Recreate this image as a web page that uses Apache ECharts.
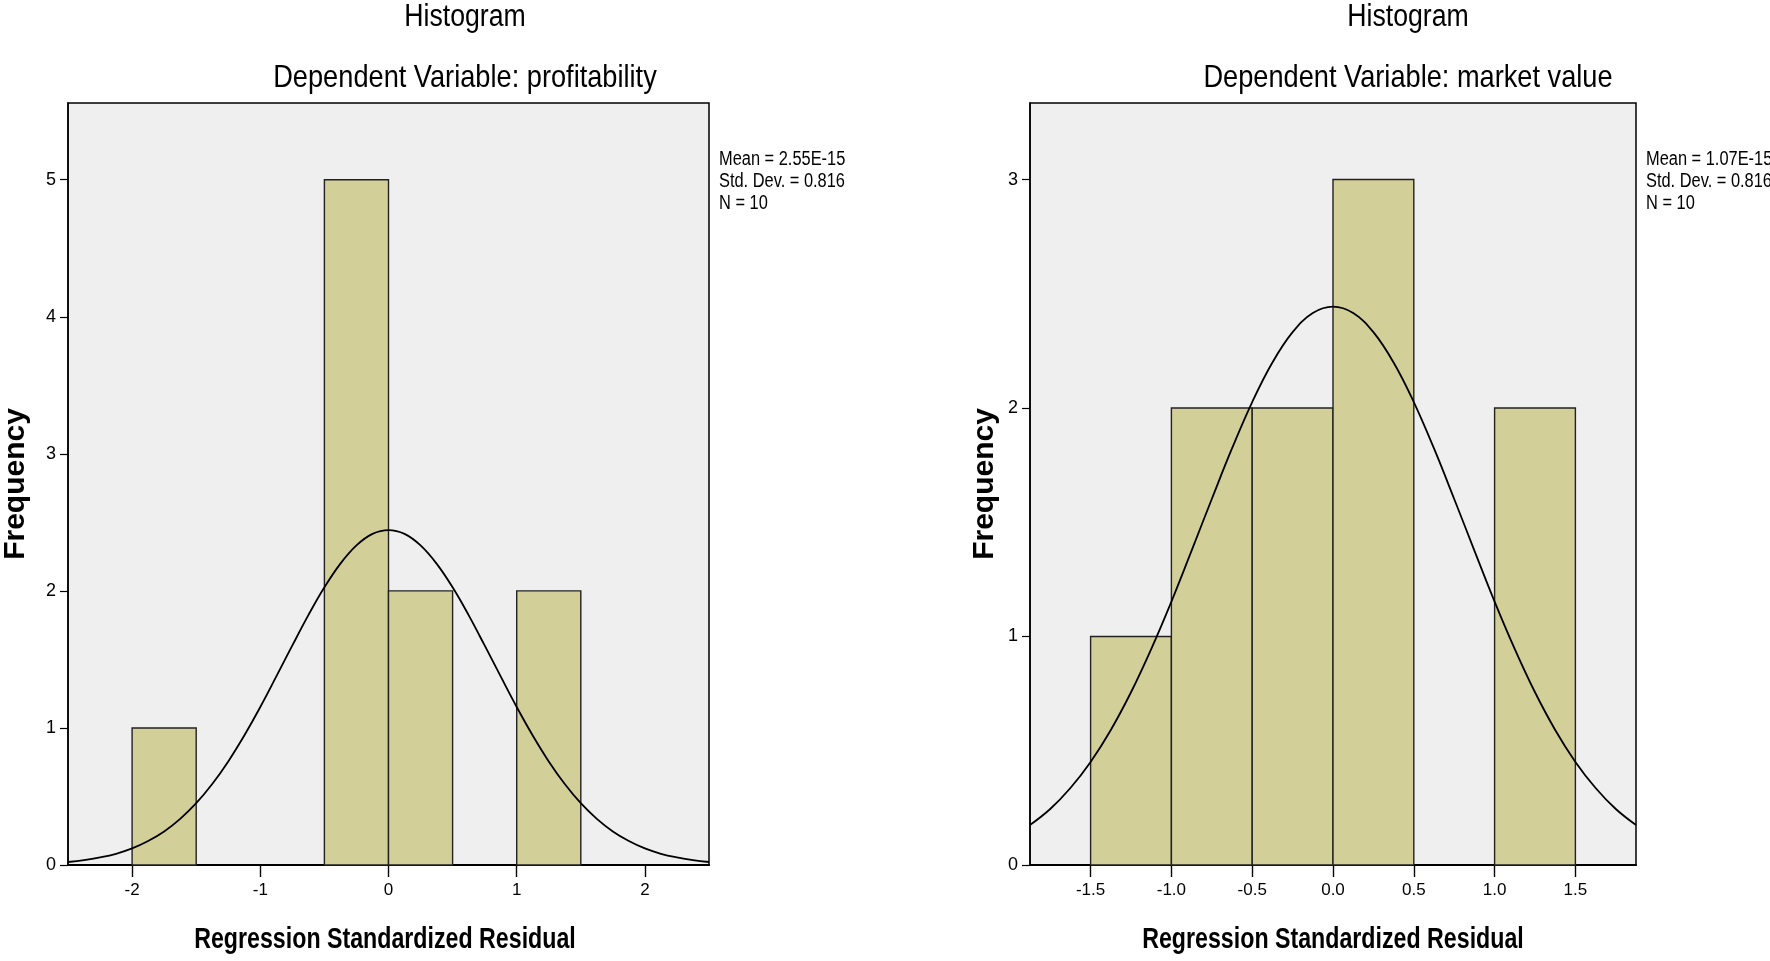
<!DOCTYPE html>
<html>
<head>
<meta charset="utf-8">
<script src="https://cdn.jsdelivr.net/npm/echarts@6/dist/echarts.min.js"></script>
<style>
html,body{margin:0;padding:0;background:#fff;}
#c{width:1770px;height:961px;}
</style>
</head>
<body>
<div id="c"></div>
<script>
// ---- data ----
// bins: [start, end, frequency]
const leftBins = [[-2, -1.5, 1], [-0.5, 0, 5], [0, 0.5, 2], [1, 1.5, 2]];
const rightBins = [[-1.5, -1.0, 1], [-1.0, -0.5, 2], [-0.5, 0, 2], [0, 0.5, 3], [1.0, 1.5, 2]];

// normal curve, read at x steps of 0.125
const leftCurveX = [-2.5,-2.375,-2.25,-2.125,-2,-1.875,-1.75,-1.625,-1.5,-1.375,-1.25,-1.125,-1,-0.875,-0.75,-0.625,-0.5,-0.375,-0.25,-0.125,0,0.125,0.25,0.375,0.5,0.625,0.75,0.875,1,1.125,1.25,1.375,1.5,1.625,1.75,1.875,2,2.125,2.25,2.375,2.5];
const leftCurveY = [0.022,0.035,0.055,0.082,0.121,0.175,0.245,0.337,0.451,0.591,0.756,0.945,1.153,1.376,1.602,1.823,2.026,2.199,2.332,2.416,2.444,2.416,2.332,2.199,2.026,1.823,1.602,1.376,1.153,0.945,0.756,0.591,0.451,0.337,0.245,0.175,0.121,0.082,0.055,0.035,0.022];
const rightCurveX = [-1.875,-1.75,-1.625,-1.5,-1.375,-1.25,-1.125,-1,-0.875,-0.75,-0.625,-0.5,-0.375,-0.25,-0.125,0,0.125,0.25,0.375,0.5,0.625,0.75,0.875,1,1.125,1.25,1.375,1.5,1.625,1.75,1.875];
const rightCurveY = [0.175,0.245,0.337,0.451,0.591,0.756,0.945,1.153,1.376,1.602,1.823,2.026,2.199,2.332,2.416,2.444,2.416,2.332,2.199,2.026,1.823,1.602,1.376,1.153,0.945,0.756,0.591,0.451,0.337,0.245,0.175];

// tick labels
const leftXTicks = [-2, -1, 0, 1, 2];
const rightXTicks = [-1.5, -1.0, -0.5, 0.0, 0.5, 1.0, 1.5];
const leftYTicks = [0, 1, 2, 3, 4, 5];
const rightYTicks = [0, 1, 2, 3];

// texts
const mainTitle = 'Histogram';
const leftSubtitle = 'Dependent Variable: profitability';
const rightSubtitle = 'Dependent Variable: market value';
const xName = 'Regression Standardized Residual';
const yName = 'Frequency';
const leftStats = ['Mean = 2.55E-15', 'Std. Dev. = 0.816', 'N = 10'];
const rightStats = ['Mean = 1.07E-15', 'Std. Dev. = 0.816', 'N = 10'];

// ---- styling ----
const SANS = '"Liberation Sans", Arial, sans-serif';
const BAR = '#d3cf99';

const chart = echarts.init(document.getElementById('c'), null, {renderer: 'canvas'});

function zip(xs, ys) { return xs.map((x, i) => [x, ys[i]]); }

function barRender(params, api) {
  const p0 = api.coord([api.value(0), api.value(2)]);
  const p1 = api.coord([api.value(1), 0]);
  return {
    type: 'rect',
    shape: {x: p0[0], y: p0[1], width: p1[0] - p0[0], height: p1[1] - p0[1]},
    style: {fill: BAR, stroke: '#222', lineWidth: 1.4}
  };
}

function xAxisCfg(idx, min, max, ticks, fmt) {
  return {
    type: 'value', gridIndex: idx, min: min, max: max,
    axisLine: {show: true, onZero: false, lineStyle: {color: '#000', width: 2}},
    axisTick: {show: true, length: 12, customValues: ticks, lineStyle: {color: '#000', width: 1.4}},
    axisLabel: {customValues: ticks, margin: 17, fontFamily: SANS, fontSize: 17, color: '#000', formatter: fmt},
    splitLine: {show: false}
  };
}
function yAxisCfg(idx, max, ticks, gap) {
  return {
    type: 'value', gridIndex: idx, min: 0, max: max,
    name: yName, nameLocation: 'middle', nameGap: gap,
    nameTextStyle: {fontFamily: SANS, fontWeight: 'bold', fontSize: 30, color: '#000'},
    axisLine: {show: true, onZero: false, lineStyle: {color: '#000', width: 1.5}},
    axisTick: {show: true, length: 8, customValues: ticks, lineStyle: {color: '#000', width: 1.2}},
    axisLabel: {customValues: ticks, margin: 12, fontFamily: SANS, fontSize: 18, color: '#000'},
    splitLine: {show: false}
  };
}

function narrowText(text, x, y, size, weight, align, scale) {
  return {
    type: 'text', x: x, y: y, scaleX: scale,
    style: {text: text, font: (weight || 'normal') + ' ' + size + 'px ' + SANS, fill: '#000', align: align || 'center', verticalAlign: 'middle'}
  };
}
function statText(lines, x) {
  return lines.map((t, i) => narrowText(t, x, 159 + i * 22, 20, 'normal', 'left', 0.82));
}

const option = {
  backgroundColor: '#ffffff',
  animation: false,
  grid: [
    {left: 60, top: 103, width: 649, height: 762, show: true, backgroundColor: '#efefef', borderColor: '#000', borderWidth: 1.5},
    {left: 1030, top: 103, width: 606, height: 762, show: true, backgroundColor: '#efefef', borderColor: '#000', borderWidth: 1.5}
  ],
  xAxis: [
    xAxisCfg(0, -2.5, 2.5, leftXTicks, v => String(v)),
    xAxisCfg(1, -1.875, 1.875, rightXTicks, v => Number(v).toFixed(1))
  ],
  yAxis: [
    yAxisCfg(0, 5.56, leftYTicks, 37),
    yAxisCfg(1, 3.335, rightYTicks, 30)
  ],
  series: [
    {type: 'custom', xAxisIndex: 0, yAxisIndex: 0, renderItem: barRender, encode: {x: [0, 1], y: 2}, data: leftBins, z: 2},
    {type: 'line', xAxisIndex: 0, yAxisIndex: 0, data: zip(leftCurveX, leftCurveY), smooth: 0.4, showSymbol: false, symbol: 'none', lineStyle: {color: '#000', width: 1.8}, z: 3},
    {type: 'custom', xAxisIndex: 1, yAxisIndex: 1, renderItem: barRender, encode: {x: [0, 1], y: 2}, data: rightBins, z: 2},
    {type: 'line', xAxisIndex: 1, yAxisIndex: 1, data: zip(rightCurveX, rightCurveY), smooth: 0.4, showSymbol: false, symbol: 'none', lineStyle: {color: '#000', width: 1.8}, z: 3}
  ],
  graphic: [
    narrowText(mainTitle, 465, 17, 31, 'normal', 'center', 0.86),
    narrowText(leftSubtitle, 465, 78, 32, 'normal', 'center', 0.85),
    narrowText(mainTitle, 1408, 17, 31, 'normal', 'center', 0.86),
    narrowText(rightSubtitle, 1408, 78, 32, 'normal', 'center', 0.85),
    narrowText(xName, 385, 940, 29, 'bold', 'center', 0.8),
    narrowText(xName, 1333, 940, 29, 'bold', 'center', 0.8)
  ].concat(statText(leftStats, 719)).concat(statText(rightStats, 1646))
};

chart.setOption(option);
</script>
</body>
</html>
